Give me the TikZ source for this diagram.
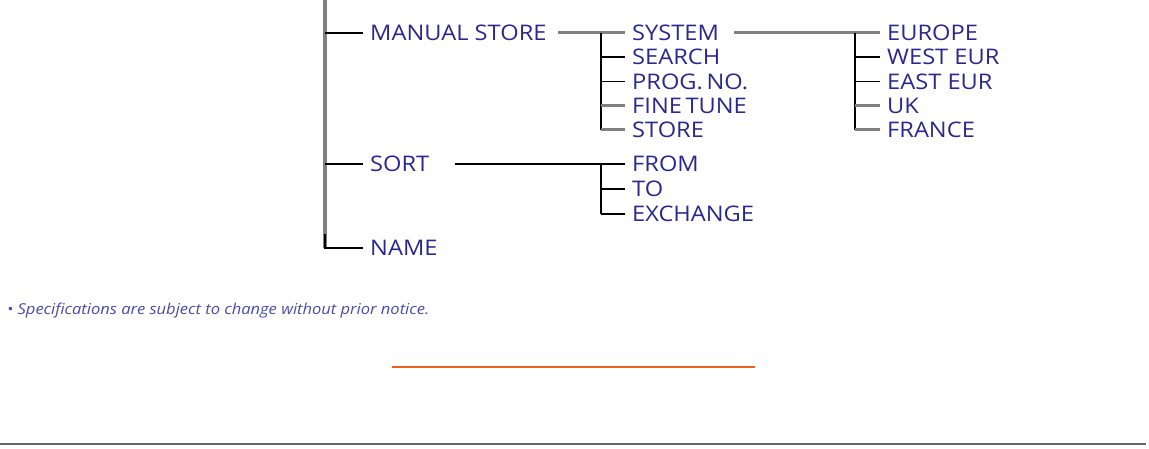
\documentclass[tikz,border=0pt]{standalone}
\usepackage{fontspec}
\setmainfont{Open Sans}[FakeStretch=1.1]
\usepackage{xcolor}
\usetikzlibrary{calc,positioning}
\definecolor{menublue}{HTML}{2A288C}
\definecolor{notegray}{HTML}{4A4AA8}
\definecolor{stemgray}{HTML}{808080}
\definecolor{rulegray}{HTML}{666666}
\definecolor{ruleorange}{HTML}{E8641E}

\begin{document}
\begin{tikzpicture}[
    x=1pt, y=-1pt,
    every node/.style={font=\fontsize{21.5}{24}\selectfont},
    item/.style={anchor=west, text=menublue, inner xsep=7pt, inner ysep=0pt},
    trunk/.style={stemgray, line width=3.4pt},
    twig/.style={black, line width=1.5pt},
    thick twig/.style={stemgray, line width=3pt}
]
\useasboundingbox (0,0) rectangle (1149,449);
%====================================================
% MAIN MENU
%====================================================
\coordinate (top) at (325,0);
\node[item] (manual) at (363,33) {MANUAL STORE};
\node[item] (sort) at (363,164) {SORT};
\node[item] (name) at (363,248) {NAME};
\draw[trunk] (top) -- (top |- name.west);
\draw[twig] (top |- manual.west) -- (manual.west);
\draw[twig] (top |- sort.west) -- (sort.west);
\draw[twig] ($(top |- name.west)+(0,-14)$) |- (name.west);

%====================================================
% MANUAL STORE
%====================================================
\foreach \lbl/\nm [count=\i from 0] in {SYSTEM/system,SEARCH/search,PROG.\,NO./prog,FINE\,TUNE/fine,STORE/store}
{
    \node[item] (\nm) at (625,33+24.2*\i) {\lbl};
}
\coordinate (msplit) at (601,33);
\draw[thick twig] ([xshift=4pt]manual.east) -- (system.west);
\draw[twig] (msplit) -- (msplit |- store.west);
\draw[twig] (msplit |- search.west) -- (search.west);
\draw[twig] (msplit |- prog.west) -- (prog.west);
\draw[thick twig] (msplit |- fine.west) -- (fine.west);
\draw[thick twig] (msplit |- store.west) -- (store.west);

%====================================================
% SYSTEM
%====================================================
\foreach \lbl/\nm [count=\i from 0] in {EUROPE/europe,WEST EUR/west,EAST EUR/east,UK/uk,FRANCE/france}
{
    \node[item] (\nm) at (880,33+24.2*\i) {\lbl};
}
\coordinate (ssplit) at (855,33);
\draw[thick twig] ([xshift=8pt]system.east) -- (europe.west);
\draw[twig] (ssplit) -- (ssplit |- france.west);
\draw[twig] (ssplit |- west.west) -- (west.west);
\draw[twig] (ssplit |- east.west) -- (east.west);
\draw[thick twig] (ssplit |- uk.west) -- (uk.west);
\draw[thick twig] (ssplit |- france.west) -- (france.west);

%====================================================
% SORT
%====================================================
\foreach \lbl/\nm [count=\i from 0] in {FROM/from,TO/to,EXCHANGE/exch}
{
    \node[item] (\nm) at (625,164+25*\i) {\lbl};
}
\coordinate (osplit) at (601,164);
\draw[twig] ($(sort.west)+(92,0)$) coordinate (sortout) -- (from.west);
\draw[twig] (osplit) -- (osplit |- exch.west);
\draw[twig] (osplit |- to.west) -- (to.west);
\draw[twig] (osplit |- exch.west) -- (exch.west);

%====================================================
% NOTE AND RULES
%====================================================
\node[anchor=west, inner sep=0pt, text=notegray, font=\fontsize{15}{17}\selectfont\itshape] (note) at (7,311)
    {\textbullet\ Specifications are subject to change without prior notice.};
\coordinate (oleft) at (392,367);
\coordinate (oright) at (755,367);
\draw[ruleorange, line width=1.1pt] (oleft) -- (oright);
\coordinate (bleft) at (0,444);
\coordinate (bright) at (1146,444);
\draw[rulegray, line width=2.4pt] (bleft) -- (bright);
\end{tikzpicture}
\end{document}
